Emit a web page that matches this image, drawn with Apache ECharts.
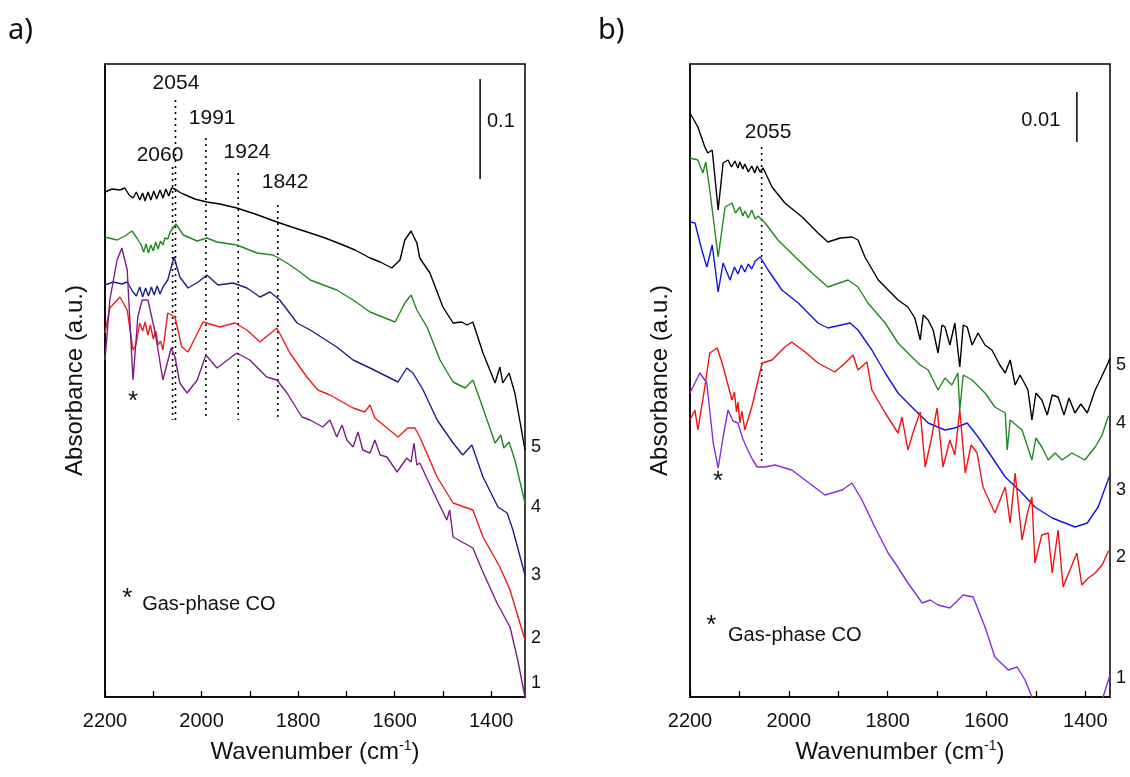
<!DOCTYPE html>
<html><head><meta charset="utf-8">
<script src="https://cdn.jsdelivr.net/npm/echarts@6/dist/echarts.min.js"></script>
<style>html,body{margin:0;padding:0;background:#fff}#c{width:1130px;height:777px}</style>
</head><body><div id="c"></div>
<script>
// ---------- Panel a spectra: [wavenumber, absorbance] ----------
const a5 = [[2200,.505],[2185,.508],[2169,.507],[2159,.509],[2150,.502],[2142,.499],[2135,.505],[2128,.497],[2122,.504],[2117,.496],[2111,.505],[2105,.497],[2099,.506],[2093,.498],[2086,.507],[2080,.499],[2074,.508],[2068,.501],[2062,.509],[2055,.508],[2046,.505],[2038,.503],[2014,.498],[1989,.495],[1962,.493],[1927,.489],[1889,.483],[1844,.475],[1807,.469],[1775,.464],[1744,.459],[1707,.452],[1682,.447],[1651,.439],[1630,.435],[1606,.429],[1589,.437],[1579,.457],[1566,.466],[1554,.454],[1548,.439],[1527,.424],[1500,.390],[1479,.374],[1461,.375],[1450,.372],[1438,.375],[1417,.344],[1392,.314],[1382,.330],[1376,.314],[1363,.324],[1351,.304],[1341,.277],[1330,.247]];
const a4 = [[2200,.460],[2175,.457],[2159,.461],[2144,.466],[2134,.459],[2125,.452],[2120,.445],[2115,.453],[2110,.444],[2105,.452],[2100,.446],[2095,.455],[2090,.448],[2085,.456],[2080,.452],[2076,.459],[2070,.458],[2065,.465],[2053,.473],[2038,.462],[2009,.456],[1989,.459],[1968,.455],[1927,.452],[1885,.444],[1852,.442],[1823,.434],[1796,.425],[1775,.417],[1720,.407],[1686,.397],[1651,.385],[1620,.379],[1599,.375],[1579,.394],[1566,.402],[1554,.387],[1533,.370],[1506,.337],[1479,.315],[1454,.309],[1438,.317],[1423,.297],[1392,.254],[1380,.262],[1374,.249],[1363,.255],[1351,.237],[1330,.194]];
const a3 = [[2200,.412],[2183,.415],[2165,.413],[2154,.415],[2142,.405],[2135,.401],[2128,.410],[2122,.400],[2116,.409],[2110,.401],[2104,.410],[2098,.402],[2092,.411],[2086,.403],[2080,.410],[2070,.417],[2057,.440],[2045,.420],[2028,.409],[2007,.415],[1989,.422],[1966,.412],[1935,.414],[1906,.409],[1879,.400],[1858,.405],[1838,.397],[1802,.374],[1775,.367],[1720,.350],[1686,.337],[1651,.329],[1593,.315],[1575,.329],[1562,.324],[1541,.307],[1512,.277],[1479,.254],[1459,.242],[1440,.252],[1417,.220],[1386,.190],[1367,.184],[1355,.167],[1330,.122]];
const a2 = [[2200,.364],[2190,.389],[2169,.400],[2154,.387],[2142,.347],[2136,.352],[2128,.374],[2122,.366],[2117,.375],[2111,.362],[2106,.372],[2100,.358],[2095,.366],[2090,.352],[2085,.356],[2080,.347],[2070,.384],[2055,.380],[2041,.350],[2028,.345],[1997,.375],[1962,.370],[1931,.374],[1906,.367],[1879,.355],[1844,.369],[1817,.344],[1782,.320],[1759,.307],[1734,.302],[1686,.289],[1662,.285],[1651,.292],[1641,.279],[1593,.260],[1573,.269],[1558,.269],[1548,.260],[1512,.220],[1479,.194],[1438,.187],[1417,.160],[1382,.130],[1361,.107],[1330,.057]];
const a1 = [[2200,.337],[2190,.397],[2175,.437],[2165,.449],[2154,.427],[2142,.317],[2132,.380],[2123,.397],[2111,.397],[2096,.364],[2080,.317],[2063,.349],[2055,.340],[2045,.314],[2030,.304],[2009,.317],[1991,.342],[1968,.329],[1927,.344],[1900,.337],[1865,.320],[1844,.317],[1823,.304],[1792,.280],[1775,.277],[1749,.270],[1734,.277],[1720,.260],[1709,.272],[1699,.257],[1686,.250],[1676,.265],[1666,.247],[1651,.244],[1641,.257],[1630,.242],[1616,.240],[1595,.225],[1575,.239],[1566,.235],[1560,.254],[1554,.232],[1548,.234],[1512,.197],[1492,.177],[1486,.187],[1479,.160],[1438,.149],[1419,.127],[1388,.094],[1361,.070],[1345,.037],[1330,.000]];

// ---------- Panel b spectra ----------
const b5 = [[2200,.1168],[2184,.1140],[2170,.1100],[2164,.1088],[2155,.1094],[2143,.0974],[2133,.1068],[2123,.1074],[2116,.1060],[2109,.1072],[2103,.1058],[2099,.1070],[2093,.1056],[2089,.1066],[2082,.1050],[2075,.1062],[2069,.1048],[2064,.1062],[2058,.1050],[2052,.1058],[2034,.1020],[2008,.0988],[1973,.0960],[1941,.0928],[1921,.0910],[1896,.0918],[1872,.0920],[1860,.0914],[1846,.0880],[1819,.0834],[1779,.0794],[1759,.0780],[1745,.0758],[1734,.0714],[1728,.0764],[1718,.0754],[1708,.0734],[1698,.0688],[1690,.0744],[1684,.0740],[1674,.0704],[1664,.0748],[1654,.0660],[1647,.0744],[1639,.0740],[1629,.0704],[1617,.0728],[1603,.0704],[1589,.0694],[1573,.0664],[1562,.0648],[1552,.0674],[1542,.0624],[1532,.0644],[1516,.0614],[1508,.0554],[1500,.0608],[1488,.0594],[1477,.0564],[1467,.0604],[1455,.0600],[1443,.0564],[1433,.0598],[1421,.0568],[1409,.0586],[1396,.0568],[1380,.0614],[1370,.0634],[1354,.0668],[1350,.0678]];
const b4 = [[2200,.1078],[2184,.1074],[2174,.1048],[2168,.1070],[2160,.1014],[2143,.0880],[2129,.0980],[2115,.0988],[2108,.0968],[2099,.0980],[2093,.0962],[2089,.0972],[2082,.0958],[2075,.0974],[2068,.0956],[2062,.0962],[2048,.0948],[2022,.0914],[1987,.0880],[1953,.0848],[1921,.0820],[1880,.0834],[1860,.0820],[1840,.0788],[1805,.0748],[1779,.0708],[1751,.0680],[1734,.0664],[1718,.0654],[1698,.0614],[1684,.0638],[1670,.0624],[1658,.0648],[1654,.0574],[1647,.0644],[1629,.0634],[1603,.0608],[1583,.0580],[1562,.0568],[1558,.0494],[1552,.0554],[1528,.0534],[1508,.0474],[1500,.0518],[1488,.0500],[1475,.0474],[1461,.0488],[1447,.0474],[1427,.0488],[1401,.0474],[1380,.0500],[1366,.0524],[1354,.0560],[1350,.0564]];
const b3 = [[2200,.0950],[2190,.0948],[2176,.0894],[2166,.0860],[2155,.0904],[2143,.0810],[2133,.0868],[2119,.0834],[2110,.0860],[2103,.0846],[2096,.0864],[2089,.0850],[2082,.0866],[2075,.0856],[2068,.0872],[2058,.0880],[2042,.0854],[2014,.0814],[1981,.0788],[1941,.0748],[1921,.0738],[1876,.0748],[1860,.0734],[1832,.0694],[1805,.0648],[1779,.0608],[1751,.0580],[1718,.0548],[1684,.0534],[1664,.0538],[1639,.0548],[1617,.0520],[1589,.0480],[1562,.0440],[1528,.0408],[1502,.0380],[1467,.0358],[1441,.0348],[1421,.0340],[1396,.0348],[1374,.0380],[1354,.0434],[1350,.0444]];
const b2 = [[2200,.0554],[2190,.0574],[2184,.0534],[2170,.0620],[2160,.0688],[2145,.0698],[2135,.0668],[2115,.0594],[2110,.0610],[2106,.0570],[2103,.0590],[2099,.0548],[2095,.0572],[2089,.0534],[2075,.0580],[2054,.0668],[2034,.0674],[2008,.0700],[1994,.0710],[1967,.0690],[1941,.0668],[1907,.0650],[1886,.0668],[1870,.0684],[1860,.0654],[1842,.0670],[1832,.0614],[1805,.0568],[1779,.0528],[1771,.0560],[1759,.0494],[1747,.0534],[1734,.0570],[1724,.0460],[1712,.0514],[1700,.0578],[1688,.0460],[1674,.0514],[1664,.0484],[1654,.0574],[1643,.0448],[1631,.0504],[1619,.0488],[1607,.0420],[1583,.0368],[1562,.0420],[1552,.0348],[1542,.0448],[1528,.0314],[1518,.0364],[1508,.0400],[1502,.0268],[1488,.0324],[1475,.0328],[1467,.0248],[1455,.0334],[1445,.0220],[1431,.0254],[1417,.0288],[1407,.0224],[1394,.0238],[1380,.0248],[1366,.0264],[1354,.0290],[1350,.0294]];
const b1 = [[2200,.0608],[2180,.0648],[2166,.0628],[2153,.0508],[2143,.0458],[2133,.0520],[2123,.0574],[2113,.0552],[2103,.0548],[2093,.0516],[2083,.0494],[2073,.0474],[2064,.0460],[2048,.0460],[2028,.0464],[1994,.0454],[1967,.0434],[1927,.0404],[1892,.0414],[1872,.0428],[1852,.0394],[1826,.0340],[1799,.0288],[1785,.0268],[1759,.0228],[1730,.0188],[1714,.0194],[1698,.0184],[1674,.0178],[1647,.0204],[1627,.0200],[1603,.0140],[1583,.0080],[1556,.0054],[1538,.0060],[1522,.0034],[1508,.0000],[1492,-.0030],[1370,-.0030],[1364,.0000],[1350,.0044]];

// ---------- annotations ----------
const peaksA = [2060, 2054, 1991, 1924, 1842];
const peakTopsA = [.530, .597, .559, .524, .492];
const peakBottomA = .277;
const peakLabelsA = [['2054',2053,.614],['1991',1978,.579],['2060',2086,.542],['1924',1906,.545],['1842',1827,.515]];
const peaksB = [2055];
const peakTopsB = [.110];
const peakBottomB = .0464;
const peakLabelsB = [['2055',2042,.113]];
const scaleA = [1423, .518, .618, '0.1'];
const scaleB = [1417, .111, .121, '0.01'];
const curveNames = ['5','4','3','2','1'];
const xTicks = [2200,2100,2000,1900,1800,1700,1600,1500,1400];
const xLabels = [2200,2000,1800,1600,1400];

const colorsA = ['#000000','#1f8a1f','#1c1f8c','#ee1c1c','#7b1f86'];
const colorsB = ['#000000','#1f8a1f','#1414e6','#ee1414','#8a2be2'];
const FONT = 'Liberation Sans, Arial, sans-serif';
const TXT = '#111';

function xAxisCfg(gi, xmin){
  return {
    gridIndex: gi, type: 'value', inverse: true, min: xmin, max: 2200,
    name: 'Wavenumber (cm{s|-1})', nameLocation: 'middle', nameGap: 42,
    nameTextStyle: {fontFamily: FONT, fontSize: 24, color: TXT,
      rich: {s: {fontFamily: FONT, fontSize: 14, color: TXT, verticalAlign: 'top', padding:[0,0,12,0]}}},
    axisLine: {show: true, lineStyle: {color: '#000', width: 1.5}},
    axisTick: {show: true, inside: true, length: 6, customValues: xTicks, lineStyle: {color: '#000', width: 1.3}},
    axisLabel: {show: true, customValues: xLabels, margin: 14, fontFamily: FONT, fontSize: 20, color: TXT,
      formatter: v => String(v)},
    splitLine: {show: false}
  };
}
function yAxisCfg(gi, ymax){
  return {
    gridIndex: gi, type: 'value', min: 0, max: ymax,
    name: 'Absorbance (a.u.)', nameLocation: 'middle', nameGap: 18,
    nameTextStyle: {fontFamily: FONT, fontSize: 24, color: TXT},
    axisLine: {show: true, lineStyle: {color: '#000', width: 1.5}},
    axisTick: {show: false}, axisLabel: {show: false}, splitLine: {show: false}
  };
}
function spec(gi, data, color){
  return {type: 'line', xAxisIndex: gi, yAxisIndex: gi, data: data, showSymbol: false, symbol: 'none',
    lineStyle: {color: color, width: 1.4}, itemStyle: {color: color}, clip: true, silent: true, animation: false, z: 3};
}
function dotted(gi, w, top, bot){
  return {type: 'line', xAxisIndex: gi, yAxisIndex: gi, data: [[w, top],[w, bot]], symbol: 'none',
    lineStyle: {color: '#000', width: 1.6, type: [2,4]}, silent: true, animation: false, z: 2};
}
function bar(gi, s){
  return {type: 'line', xAxisIndex: gi, yAxisIndex: gi, data: [[s[0], s[1]],[s[0], s[2]]], symbol: 'none',
    lineStyle: {color: '#000', width: 1.5}, silent: true, animation: false};
}
function texts(gi, items, size, align){
  return {type: 'scatter', xAxisIndex: gi, yAxisIndex: gi, symbol: 'circle', symbolSize: 0.01, clip: false,
    itemStyle: {color: '#000'}, silent: true, animation: false, z: 5,
    data: items.map(t => ({value: [t[1], t[2]], name: t[0]})),
    label: {show: true, position: 'inside', align: align || 'center', verticalAlign: 'middle',
      formatter: p => p.name, fontFamily: FONT, fontSize: size, color: '#111',
      textBorderWidth: 0, opacity: 1}};
}

const series = [];
[a5,a4,a3,a2,a1].forEach((d,i) => series.push(spec(0, d, colorsA[i])));
[b5,b4,b3,b2,b1].forEach((d,i) => series.push(spec(1, d, colorsB[i])));
peaksA.forEach((w,i) => series.push(dotted(0, w, peakTopsA[i], peakBottomA)));
peaksB.forEach((w,i) => series.push(dotted(1, w, peakTopsB[i], peakBottomB)));
series.push(bar(0, scaleA), bar(1, scaleB));
series.push(texts(0, peakLabelsA, 21));
series.push(texts(1, peakLabelsB, 21));
series.push(texts(0, [[scaleA[3], 1380, .576]], 20));
series.push(texts(1, [[scaleB[3], 1490, .1154]], 20));
series.push(texts(0, [['*', 2142, .295], ['*', 2154, .098]], 26));
series.push(texts(1, [['*', 2143, .0430], ['*', 2157, .0142]], 26));
series.push(texts(0, [['Gas-phase CO', 2123, .093]], 20, 'left'));
series.push(texts(1, [['Gas-phase CO', 2123, .0124]], 20, 'left'));

const numYA = [447, 507, 575, 638, 683];
const numYB = [365, 423, 490, 557, 678];
const graphics = [
  {type: 'text', left: 8, top: 16, style: {text: 'a)', font: '29px Noto Sans', fill: '#111'}},
  {type: 'text', left: 598, top: 16, style: {text: 'b)', font: '29px Noto Sans', fill: '#111'}}
];
curveNames.forEach((n,i) => {
  graphics.push({type: 'text', x: 531, y: numYA[i], style: {text: n, font: '18px Liberation Sans', fill: '#111', textVerticalAlign: 'middle'}});
  graphics.push({type: 'text', x: 1116, y: numYB[i], style: {text: n, font: '18px Liberation Sans', fill: '#111', textVerticalAlign: 'middle'}});
});

const chart = echarts.init(document.getElementById('c'), null, {renderer: 'canvas'});
chart.setOption({
  backgroundColor: '#fff',
  animation: false,
  grid: [
    {left: 105, top: 64, width: 420, height: 633, show: true, borderColor: '#000', borderWidth: 1.5, containLabel: false},
    {left: 690, top: 64, width: 420, height: 633, show: true, borderColor: '#000', borderWidth: 1.5, containLabel: false}
  ],
  xAxis: [xAxisCfg(0, 1330), xAxisCfg(1, 1350)],
  yAxis: [yAxisCfg(0, 0.633), yAxisCfg(1, 0.1266)],
  series: series,
  graphic: graphics
});
</script></body></html>
